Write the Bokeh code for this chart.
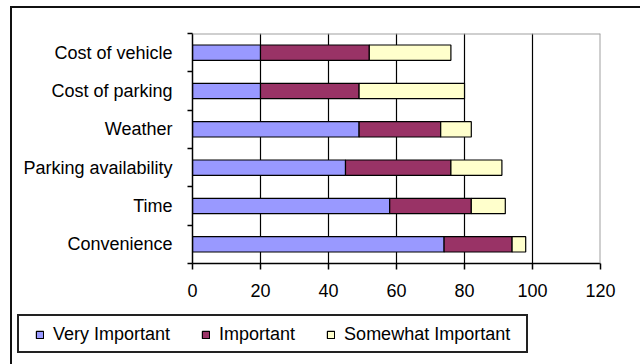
from bokeh.plotting import figure
from bokeh.layouts import column
from bokeh.models import (ColumnDataSource, Range1d, FixedTicker, Legend, LegendItem,
                          Span, InlineStyleSheet)
from bokeh.embed import file_html
from bokeh.resources import INLINE

# Survey: importance of each factor (% of respondents), listed top to bottom
categories = ["Cost of vehicle", "Cost of parking", "Weather",
              "Parking availability", "Time", "Convenience"]
very_important = [20, 20, 49, 45, 58, 74]
important = [32, 29, 24, 31, 24, 20]
somewhat_important = [24, 31, 9, 15, 10, 4]
series_names = ["Very Important", "Important", "Somewhat Important"]
x_ticks = [0, 20, 40, 60, 80, 100, 120]

colors = ["#9999FF", "#993366", "#FFFFCC"]
FONT = "Liberation Sans"
FS = "18px"

# bottom-to-top order for the numeric band axis
cats_bt = categories[::-1]
n = len(cats_bt)
centers = [i + 0.5 for i in range(n)]
source = ColumnDataSource(dict(
    y=centers,
    vi=very_important[::-1],
    imp=important[::-1],
    si=somewhat_important[::-1],
))

# chart border (top/left edges) and legend box, drawn as CSS overlays
chart_css = InlineStyleSheet(css="""
:host::after {
  content: ""; position: absolute; left: 10px; top: 6px; right: 0; bottom: 0;
  border-top: 2px solid #111; border-left: 2px solid #111;
  pointer-events: none; z-index: 10;
}
""")
legend_css = InlineStyleSheet(css="""
:host::after {
  content: ""; position: absolute; left: 10px; top: 0; right: 0; bottom: 0;
  border-left: 2px solid #111;
  pointer-events: none; z-index: 10;
}
:host::before {
  content: ""; position: absolute; left: 17px; top: 4px; width: 511px; height: 39px;
  border: 2px solid #222; box-sizing: border-box;
  pointer-events: none; z-index: 10;
}
""")

p = figure(width=640, height=310, output_backend="svg", toolbar_location=None,
           x_range=Range1d(0, 120), y_range=Range1d(0, n),
           min_border_left=192, min_border_right=40,
           min_border_top=33, min_border_bottom=47,
           frame_align=False, stylesheets=[chart_css])
p.outline_line_color = None
p.background_fill_color = "white"
p.border_fill_color = "white"

renderers = p.hbar_stack(["vi", "imp", "si"], y="y", height=0.4, source=source,
                         fill_color=colors, line_color="black", line_width=1.2)

# vertical gridlines
p.ygrid.grid_line_color = None
p.xgrid.ticker = FixedTicker(ticks=[20, 40, 60, 80, 100])
p.xgrid.grid_line_color = "black"
p.xgrid.grid_line_width = 1.2

# gray top and right plot-area borders
p.add_layout(Span(location=120, dimension="height", line_color="#A0A0A0", line_width=2))
p.add_layout(Span(location=n, dimension="width", line_color="#A0A0A0", line_width=2))

# x axis
xa = p.xaxis[0]
xa.ticker = FixedTicker(ticks=x_ticks)
xa.axis_line_color = "black"
xa.axis_line_width = 1.5
xa.major_tick_line_color = "black"
xa.major_tick_line_width = 1.5
xa.major_tick_in = 0
xa.major_tick_out = 6
xa.minor_tick_line_color = None
xa.major_label_standoff = 14
xa.major_label_text_font = FONT
xa.major_label_text_font_size = FS
xa.major_label_text_color = "black"

# y axis: labels at band centers, ticks at band boundaries
ya = p.yaxis[0]
ya.ticker = FixedTicker(ticks=centers, minor_ticks=list(range(n + 1)))
ya.major_label_overrides = {c: name for c, name in zip(centers, cats_bt)}
ya.axis_line_color = "black"
ya.axis_line_width = 1.5
ya.major_tick_line_color = None
ya.major_tick_in = 0
ya.major_tick_out = 0
ya.minor_tick_line_color = "black"
ya.minor_tick_line_width = 1.5
ya.minor_tick_in = 0
ya.minor_tick_out = 5
ya.major_label_standoff = 15
ya.major_label_text_font = FONT
ya.major_label_text_font_size = FS
ya.major_label_text_color = "black"

# legend strip under the chart; swatch renderers sit outside its visible range
lg = figure(width=640, height=54, output_backend="svg", toolbar_location=None,
            x_range=Range1d(0, 1), y_range=Range1d(0, 1),
            x_axis_type=None, y_axis_type=None,
            min_border_left=0, min_border_right=0, min_border_top=0, min_border_bottom=0,
            frame_align=False, stylesheets=[legend_css])
lg.outline_line_color = None
lg.grid.grid_line_color = None
lg.border_fill_color = "white"
lg.background_fill_color = "white"
swatches = [lg.hbar(y=[-5], right=[0], height=0.4, fill_color=c,
                    line_color="black", line_width=1.2)
            for c in colors]

legend = Legend(
    items=[LegendItem(label=name, renderers=[r]) for name, r in zip(series_names, swatches)],
    orientation="horizontal", location=(35, 19),
    border_line_color=None, background_fill_alpha=0,
    padding=0, margin=0, spacing=31, label_standoff=9,
    glyph_width=9, glyph_height=9,
    label_text_font=FONT, label_text_font_size=FS, label_text_color="black",
)
lg.add_layout(legend, "center")

layout = column(p, lg, spacing=0)
open("out.html", "w").write(file_html(layout, INLINE))
